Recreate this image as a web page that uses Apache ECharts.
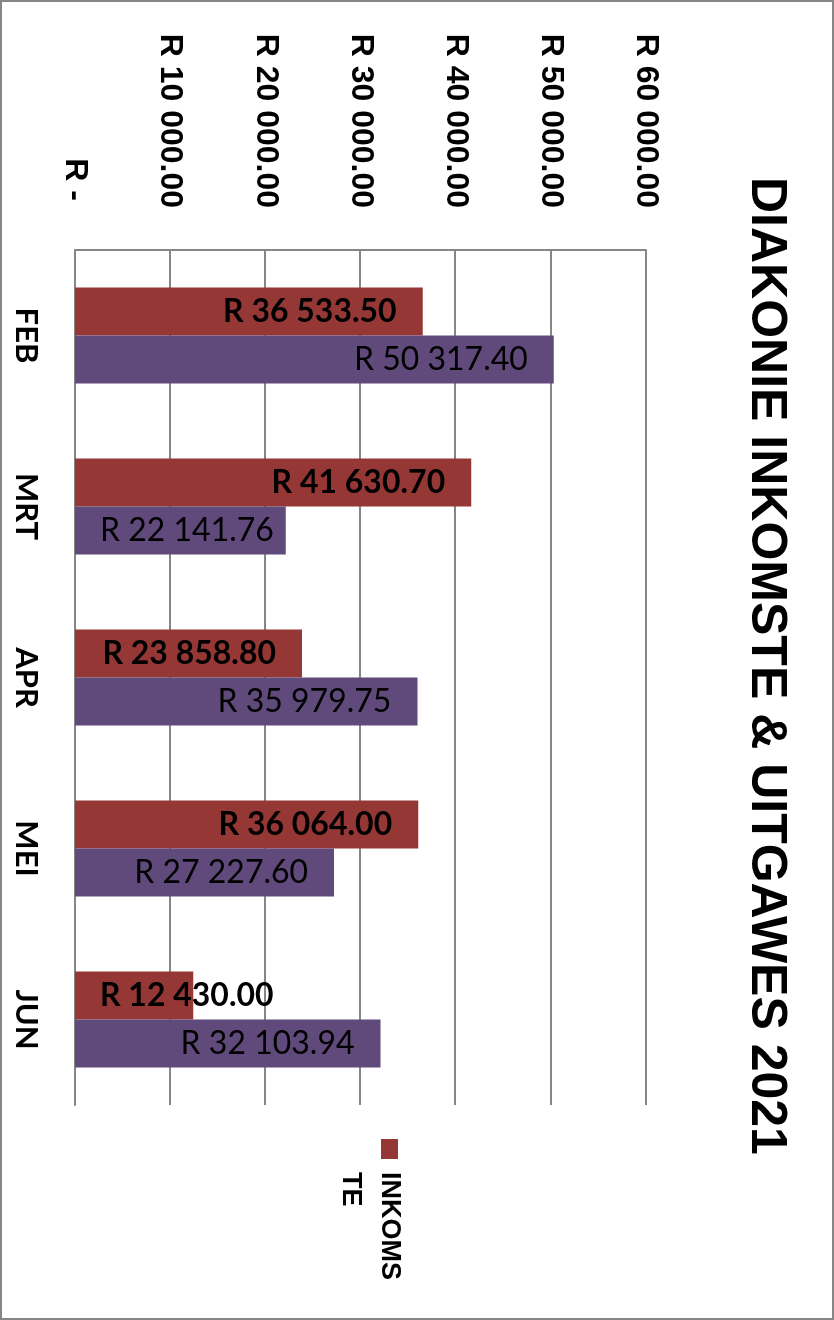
<!DOCTYPE html>
<html>
<head>
<meta charset="utf-8">
<script src="https://cdn.jsdelivr.net/npm/echarts@6/dist/echarts.min.js"></script>
<style>
  html, body { margin: 0; padding: 0; width: 834px; height: 1320px; overflow: hidden; background: #fff; }
  #chart { position: absolute; left: 0; top: 0; width: 1320px; height: 834px;
           transform-origin: 0 0; transform: translate(834px, 0) rotate(90deg); }
</style>
</head>
<body>
<div id="chart"></div>
<script>
const categories = ['FEB', 'MRT', 'APR', 'MEI', 'JUN'];
const inkomste = [36533.50, 41630.70, 23858.80, 36064.00, 12430.00];
const uitgawes = [50317.40, 22141.76, 35979.75, 27227.60, 32103.94];
const valueTicks = [0, 10000, 20000, 30000, 40000, 50000, 60000];
const seriesNames = ['INKOMSTE', 'UITGAWES'];
const titleText = 'DIAKONIE INKOMSTE & UITGAWES 2021';

function rand(v) {
  const s = v.toFixed(2).split('.');
  const int = s[0].replace(/\B(?=(\d{3})+(?!\d))/g, ' ');
  return 'R ' + int + '.' + s[1];
}
// labels that don't fit between bar start and end are pushed to the bar start
const FIT_MIN = 23800;
function labelFor(v) {
  return v >= FIT_MIN
    ? { position: 'insideTop', distance: 26, align: 'right', verticalAlign: 'middle' }
    : { position: 'insideBottom', distance: 25, align: 'left', verticalAlign: 'middle' };
}

const chart = echarts.init(document.getElementById('chart'));
const gridColor = '#868686';
const axisFont = { fontFamily: 'Liberation Sans', fontWeight: 'bold', fontSize: 32, color: '#000' };
chart.setOption({
  animation: false,
  backgroundColor: '#fff',
  title: {
    text: titleText,
    left: 172, top: 38,
    textStyle: { fontFamily: 'Liberation Sans', fontWeight: 'bold', fontSize: 50, color: '#000' }
  },
  legend: {
    data: [seriesNames[0]],
    orient: 'vertical',
    left: 1134, top: 381,
    itemWidth: 20, itemHeight: 17,
    icon: 'rect',
    formatter: () => '\nINKOMS\nTE',
    textStyle: { fontFamily: 'Liberation Sans', fontWeight: 'bold', fontSize: 27, lineHeight: 39,
                 color: '#000', padding: [0, 0, 0, 8] }
  },
  graphic: [{
    type: 'rect', silent: true,
    shape: { x: 1, y: 1, width: 1318, height: 832 },
    style: { fill: 'none', stroke: gridColor, lineWidth: 2 }
  }],
  grid: { left: 250, top: 188, width: 855, height: 571, containLabel: false },
  xAxis: {
    type: 'category',
    data: categories,
    axisLine: { show: true, lineStyle: { color: gridColor, width: 2 } },
    axisTick: { show: false },
    axisLabel: { margin: 33, fontFamily: 'Lato', fontWeight: 'bold', fontSize: 31, color: '#000' }
  },
  yAxis: {
    type: 'value',
    min: valueTicks[0], max: valueTicks[valueTicks.length - 1], interval: valueTicks[1] - valueTicks[0],
    axisLine: { show: true, lineStyle: { color: gridColor, width: 2 } },
    axisTick: { show: false },
    splitLine: { show: true, lineStyle: { color: gridColor, width: 2 } },
    axisLabel: Object.assign({
      margin: 42,
      formatter: v => v === 0 ? '{z|R -}' : rand(v),
      rich: { z: Object.assign({ padding: [0, 7, 0, 0] }, axisFont) }
    }, axisFont)
  },
  series: [
    {
      name: seriesNames[0], type: 'bar', barWidth: 48, barGap: '0%',
      itemStyle: { color: '#953735' },
      label: { show: true, rotate: 90, fontFamily: 'Lato', fontWeight: 'bold', fontSize: 32, color: '#000',
               formatter: p => rand(p.value) },
      data: inkomste.map(v => ({ value: v, label: labelFor(v) }))
    },
    {
      name: seriesNames[1], type: 'bar', barWidth: 48, barGap: '0%',
      itemStyle: { color: '#604A7B' },
      label: { show: true, rotate: 90, fontFamily: 'Lato', fontWeight: 'normal', fontSize: 32, color: '#000',
               formatter: p => rand(p.value) },
      data: uitgawes.map(v => ({ value: v, label: labelFor(v) }))
    }
  ]
});
</script>
</body>
</html>
